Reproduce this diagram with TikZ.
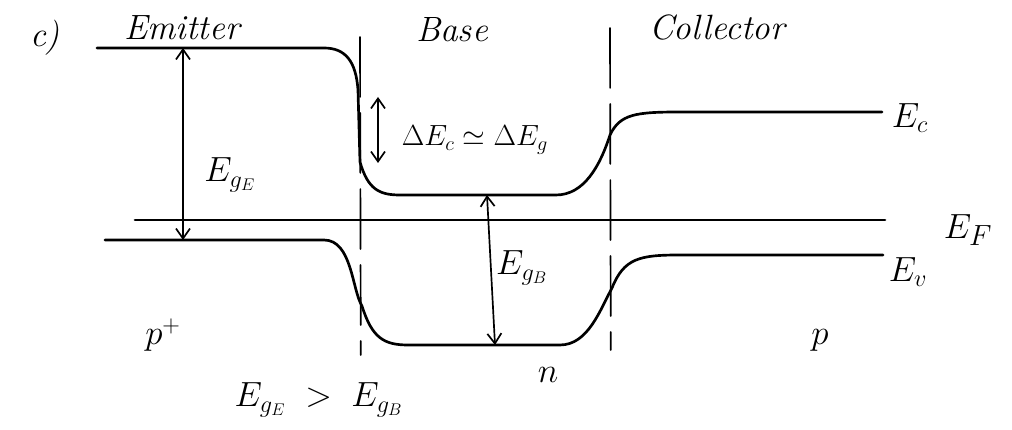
\documentclass[tikz,border=0pt]{standalone}
\usepackage{amsmath,amssymb}
\usepackage{xcolor}
\usepackage{tikz}
\usetikzlibrary{arrows.meta,calc}

\tikzset{
  band/.style={line width=1.9pt},
  junction/.style={line width=1.2pt,dash pattern=on 1.5cm off 0.4cm},
  gaparrow/.style={line width=1.2pt,{Straight Barb[length=2.5mm,width=3.5mm]}-{Straight Barb[length=2.5mm,width=3.5mm]}},
  hand/.style={font=\fontsize{25}{30}\selectfont\itshape},
  lbl/.style={font=\fontsize{25}{30}\selectfont}
}

\begin{document}
\begin{tikzpicture}[>=Stealth,line join=round,line cap=round]
  \useasboundingbox (0,0) rectangle (25.3,10.75);
  % junctions
  \coordinate (J1t) at (9.000,9.825);
  \coordinate (J1b) at (9.020,1.875);
  \coordinate (J2t) at (15.250,10.050);
  \coordinate (J2b) at (15.270,2.000);
  % arrow ends
  \coordinate (GEt) at (4.575,9.550);
  \coordinate (GEb) at (4.575,4.750);
  \coordinate (DCt) at (9.450,8.325);
  \coordinate (DCb) at (9.450,6.675);
  \coordinate (GBt) at (12.175,5.875);
  \coordinate (GBb) at (12.375,2.125);
  % conduction band
  \draw[band] (2.425,9.550) -- (8.100,9.550)
    .. controls (8.650,9.550) and (8.900,9.200) .. (8.950,8.500)
    -- (9.000,6.700)
    .. controls (9.200,6.000) and (9.500,5.875) .. (10.000,5.875)
    -- (13.900,5.875)
    .. controls (14.600,5.875) and (15.000,6.600) .. (15.250,7.375)
    .. controls (15.500,7.900) and (15.900,7.950) .. (17.000,7.950)
    -- (22.050,7.950);
  % Fermi level
  \draw[band] (3.375,5.250) -- (22.125,5.250);
  % valence band
  \draw[band] (2.625,4.750) -- (8.100,4.750)
    .. controls (8.800,4.750) and (8.800,3.500) .. (9.050,3.100)
    .. controls (9.300,2.300) and (9.600,2.125) .. (10.200,2.125)
    -- (14.000,2.125)
    .. controls (14.700,2.125) and (15.000,3.000) .. (15.300,3.550)
    .. controls (15.600,4.300) and (16.000,4.375) .. (17.000,4.375)
    -- (22.075,4.375);
  \draw[junction] (J1t) -- (J1b);
  \draw[junction] (J2t) -- (J2b);
  \draw[gaparrow] (GEt) -- (GEb);
  \draw[gaparrow] (DCt) -- (DCb);
  \draw[gaparrow] (GBt) -- (GBb);
  \node[hand] (part) at (1.125,9.800) {c)};
  \node[hand] (emit) at (4.550,10.050) {Emitter};
  \node[hand] (base) at (11.300,10.000) {Base};
  \node[hand] (coll) at (17.930,10.050) {Collector};
  \node[lbl] (ec) at (22.750,7.800) {$E_c$};
  \node[lbl,font=\fontsize{30}{34}\selectfont] (ef) at (24.200,5.000) {$E_F$};
  \node[lbl] (ev) at (22.700,3.950) {$E_v$};
  \node[lbl] (ege) at (5.750,6.375) {$E_{g_E}$};
  \node[lbl,font=\fontsize{22}{26}\selectfont] (dec) at (11.875,7.250) {$\Delta E_c \simeq \Delta E_g$};
  \node[lbl] (egb) at (13.050,4.050) {$E_{g_B}$};
  \node[lbl] (pp) at (4.075,2.375) {$p^+$};
  \node[lbl] (pc) at (20.500,2.250) {$p$};
  \node[lbl] (nb) at (13.700,1.375) {$n$};
  \node[lbl] (cmp) at (7.970,0.750) {$E_{g_E} \;>\; E_{g_B}$};
\end{tikzpicture}
\end{document}
